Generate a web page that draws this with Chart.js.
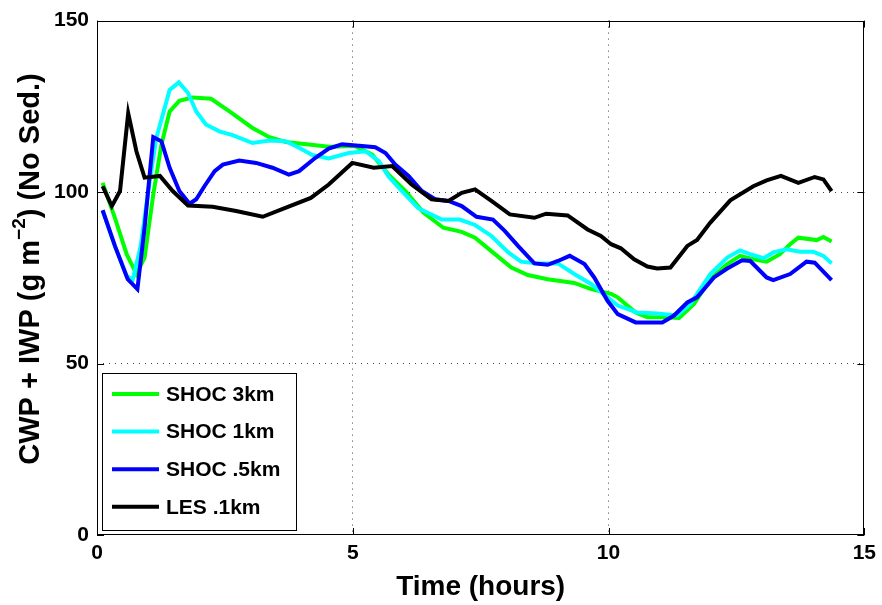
<!DOCTYPE html>
<html>
<head>
<meta charset="utf-8">
<script src="https://cdn.jsdelivr.net/npm/chart.js@4.4.0/dist/chart.umd.min.js"></script>
<style>
  html, body { margin: 0; padding: 0; background: #fff; }
  #wrap { width: 882px; height: 605px; }
</style>
</head>
<body>
<div id="wrap"><canvas id="cwpChart"></canvas></div>
<script>
// ---- data ----
const shoc3Time = [0.11, 0.35, 0.58, 0.77, 0.93, 1.1, 1.26, 1.42, 1.61, 1.87, 2.23, 2.59, 3.04, 3.37, 3.69, 4.14, 4.53, 5.05, 5.38, 5.7, 6.03, 6.38, 6.77, 7.13, 7.39, 7.78, 8.1, 8.42, 8.81, 9.33, 9.66, 10.05, 10.18, 10.53, 10.76, 11.08, 11.38, 11.67, 11.99, 12.32, 12.57, 12.83, 13.09, 13.35, 13.55, 13.71, 14.07, 14.2, 14.36];
const shoc3Value = [102.7, 92.5, 81.9, 76.1, 80.9, 99.3, 113.9, 123.5, 126.6, 127.6, 127.2, 123.5, 118.7, 116, 114.6, 113.9, 113.2, 113.4, 110.9, 105.1, 100.3, 94, 89.6, 88.4, 86.7, 81.9, 78, 75.8, 74.6, 73.5, 71.7, 70.3, 69.3, 64.9, 63.5, 63.5, 63.3, 67.4, 74.6, 79, 81.4, 80.4, 79.7, 81.9, 84.8, 86.7, 86, 86.9, 85.6];

const shoc1Time = [0.11, 0.35, 0.58, 0.7, 0.85, 1.0, 1.16, 1.42, 1.6, 1.78, 1.94, 2.13, 2.39, 2.65, 3.04, 3.37, 3.69, 3.95, 4.21, 4.53, 4.92, 5.25, 5.51, 5.7, 5.96, 6.28, 6.74, 7.09, 7.39, 7.71, 8.04, 8.29, 8.62, 9.01, 9.33, 9.66, 9.98, 10.18, 10.56, 10.95, 11.34, 11.6, 11.99, 12.32, 12.57, 12.77, 13.03, 13.22, 13.48, 13.74, 14.0, 14.2, 14.36];
const shoc1Value = [94.7, 84.3, 75.5, 74.5, 84, 100, 115.8, 129.8, 132, 128.9, 123.5, 119.7, 117.7, 116.6, 114.3, 115, 114.8, 112.9, 110.8, 109.8, 111.4, 111.9, 109, 104.5, 100.3, 95.3, 92, 92, 90.4, 87.2, 82.4, 79.7, 79.2, 79.2, 76.1, 73.2, 69.3, 66.9, 64.9, 64.6, 64, 67.4, 76.1, 80.9, 83, 81.9, 80.7, 82.4, 83.3, 82.6, 82.6, 81.4, 79.2];

const shoc05Time = [0.11, 0.35, 0.6, 0.79, 0.93, 1.1, 1.26, 1.42, 1.61, 1.81, 1.94, 2.1, 2.3, 2.46, 2.78, 3.11, 3.43, 3.75, 3.95, 4.27, 4.53, 4.79, 5.18, 5.44, 5.64, 5.83, 6.09, 6.35, 6.61, 6.87, 7.13, 7.42, 7.74, 7.97, 8.23, 8.55, 8.81, 9.01, 9.24, 9.53, 9.72, 9.98, 10.18, 10.53, 11.05, 11.28, 11.54, 11.73, 12.06, 12.32, 12.61, 12.77, 13.09, 13.22, 13.55, 13.87, 14.03, 14.36];
const shoc05Value = [94.7, 84.3, 74.6, 71.7, 89.6, 116, 114.8, 107.1, 100.3, 96.6, 97.9, 101.7, 106.1, 108, 109.2, 108.5, 107.1, 105.1, 106.1, 110, 112.7, 113.9, 113.4, 113.1, 111.4, 108, 104.7, 100.3, 97.9, 97.4, 95.9, 92.8, 92, 88.7, 84.3, 79.2, 78.8, 79.9, 81.4, 79, 75.1, 68.3, 64.4, 62, 62, 64, 67.8, 69.3, 75.1, 77.7, 80.1, 79.9, 75.1, 74.3, 76.1, 79.7, 79.4, 74.3];

const lesTime = [0.11, 0.29, 0.45, 0.61, 0.77, 0.93, 1.23, 1.48, 1.78, 2.26, 2.72, 3.24, 3.62, 4.18, 4.53, 4.99, 5.41, 5.77, 6.15, 6.54, 6.87, 7.13, 7.39, 7.71, 8.07, 8.55, 8.78, 9.2, 9.59, 9.85, 10.05, 10.24, 10.5, 10.76, 10.95, 11.21, 11.54, 11.73, 11.99, 12.38, 12.83, 13.09, 13.37, 13.71, 14.03, 14.2, 14.36];
const lesValue = [101.7, 95.9, 100.3, 123, 111.9, 104.2, 104.7, 100.3, 96.1, 95.7, 94.5, 92.8, 95, 98.3, 102.2, 108.5, 107.1, 107.6, 102.2, 97.9, 97.4, 99.8, 100.8, 97.4, 93.5, 92.5, 93.7, 93.2, 89.1, 87.2, 84.8, 83.6, 80.4, 78.3, 77.7, 78, 84.3, 86, 91.1, 97.6, 101.7, 103.4, 104.7, 102.7, 104.4, 103.7, 100.3];

const seriesLabels = ['SHOC 3km', 'SHOC 1km', 'SHOC .5km', 'LES .1km'];
const xTicks = [0, 5, 10, 15];
const yTicks = [0, 50, 100, 150];

(function () {
    'use strict';

    const FONT = "'Liberation Sans', Arial, Helvetica, sans-serif";
    const colors = ['#00ff00', '#00ffff', '#0000ff', '#000000'];

    const toPoints = (t, v) => t.map((x, i) => ({ x: x, y: v[i] }));
    const seriesData = [
        toPoints(shoc3Time, shoc3Value),
        toPoints(shoc1Time, shoc1Value),
        toPoints(shoc05Time, shoc05Value),
        toPoints(lesTime, lesValue)
    ];

    // frame box, inward ticks (MATLAB style), y label with superscript, legend
    const matlabFrame = {
        id: 'matlabFrame',
        afterDraw(chart) {
            const ctx = chart.ctx;
            const a = chart.chartArea;
            const xs = chart.scales.x, ys = chart.scales.y;
            ctx.save();
            ctx.strokeStyle = '#000';
            ctx.lineWidth = 1;
            ctx.strokeRect(Math.round(a.left) + 0.5, Math.round(a.top) + 0.5,
                Math.round(a.right - a.left) - 1, Math.round(a.bottom - a.top) - 1);
            const tl = 7;
            ctx.beginPath();
            xTicks.forEach(v => {
                const px = Math.round(xs.getPixelForValue(v)) + 0.5;
                ctx.moveTo(px, a.bottom); ctx.lineTo(px, a.bottom - tl);
                ctx.moveTo(px, a.top); ctx.lineTo(px, a.top + tl);
            });
            yTicks.forEach(v => {
                const py = Math.round(ys.getPixelForValue(v)) + 0.5;
                ctx.moveTo(a.left, py); ctx.lineTo(a.left + tl, py);
                ctx.moveTo(a.right, py); ctx.lineTo(a.right - tl, py);
            });
            ctx.stroke();

            // y axis title
            ctx.fillStyle = '#000';
            ctx.textBaseline = 'middle';
            const big = 'bold 29px ' + FONT, small = 'bold 19px ' + FONT;
            const p1 = 'CWP + IWP (g m', p2 = '\u22122', p3 = ') (No Sed.)';
            ctx.font = big;
            const w1 = ctx.measureText(p1).width, w3 = ctx.measureText(p3).width;
            ctx.font = small;
            const w2 = ctx.measureText(p2).width;
            const total = w1 + w2 + w3;
            ctx.translate(31, 269);
            ctx.rotate(-Math.PI / 2);
            let x0 = -total / 2;
            ctx.textAlign = 'left';
            ctx.font = big; ctx.fillText(p1, x0, 0);
            ctx.font = small; ctx.fillText(p2, x0 + w1, -11);
            ctx.font = big; ctx.fillText(p3, x0 + w1 + w2, 0);
            ctx.restore();

            // legend
            ctx.save();
            const lx = 102, ly = 373, lw = 194, lh = 157;
            ctx.fillStyle = '#fff';
            ctx.fillRect(lx, ly, lw, lh);
            ctx.strokeStyle = '#000';
            ctx.lineWidth = 1;
            ctx.strokeRect(lx + 0.5, ly + 0.5, lw, lh);
            ctx.font = 'bold 21px ' + FONT;
            ctx.textBaseline = 'middle';
            ctx.textAlign = 'left';
            chart.data.datasets.forEach((ds, i) => {
                const ry = 394 + i * 37.6;
                ctx.strokeStyle = ds.borderColor;
                ctx.lineWidth = 4;
                ctx.beginPath();
                ctx.moveTo(112, ry); ctx.lineTo(159, ry);
                ctx.stroke();
                ctx.fillStyle = '#000';
                ctx.fillText(ds.label, 166, ry + 1);
            });
            ctx.restore();
        }
    };

    const gridColor = ctx => {
        const v = ctx.tick ? ctx.tick.value : null;
        return (v === 0 || v === 15 || v === 150) ? 'rgba(0,0,0,0)' : '#444';
    };

    function initChart() {
        const el = document.getElementById('cwpChart');
        if (!el) return;

        new Chart(el, {
            type: 'line',
            data: {
                datasets: seriesData.map((pts, i) => ({
                    label: seriesLabels[i],
                    data: pts,
                    borderColor: colors[i],
                    backgroundColor: colors[i],
                    borderWidth: 4,
                    pointRadius: 0,
                    tension: 0,
                    fill: false,
                    order: 4 - i
                }))
            },
            options: {
                responsive: true,
                maintainAspectRatio: false,
                animation: false,
                devicePixelRatio: 1,
                layout: { padding: { top: 19, right: 14, left: 0, bottom: 0 } },
                plugins: { legend: { display: false }, tooltip: { enabled: false } },
                scales: {
                    x: {
                        type: 'linear',
                        min: 0, max: 15,
                        afterBuildTicks: s => { s.ticks = xTicks.map(v => ({ value: v })); },
                        afterFit: s => { s.height = 70; },
                        ticks: {
                            color: '#000', padding: 6,
                            font: { family: FONT, size: 21, weight: 'bold' }
                        },
                        grid: { color: gridColor, lineWidth: 1, drawTicks: false },
                        border: { display: false, dash: [1, 5] },
                        title: {
                            display: true, text: 'Time (hours)', color: '#000',
                            padding: { top: 0, bottom: 1 },
                            font: { family: FONT, size: 28, weight: 'bold' }
                        }
                    },
                    y: {
                        min: 0, max: 150,
                        afterBuildTicks: s => { s.ticks = yTicks.map(v => ({ value: v })); },
                        afterFit: s => { s.width = 97; },
                        ticks: {
                            color: '#000', padding: 8,
                            font: { family: FONT, size: 21, weight: 'bold' }
                        },
                        grid: { color: gridColor, lineWidth: 1, drawTicks: false },
                        border: { display: false, dash: [1, 5] }
                    }
                }
            },
            plugins: [matlabFrame]
        });
    }

    if (document.readyState === 'loading') {
        document.addEventListener('DOMContentLoaded', initChart);
    } else {
        initChart();
    }
})();
</script>
</body>
</html>
